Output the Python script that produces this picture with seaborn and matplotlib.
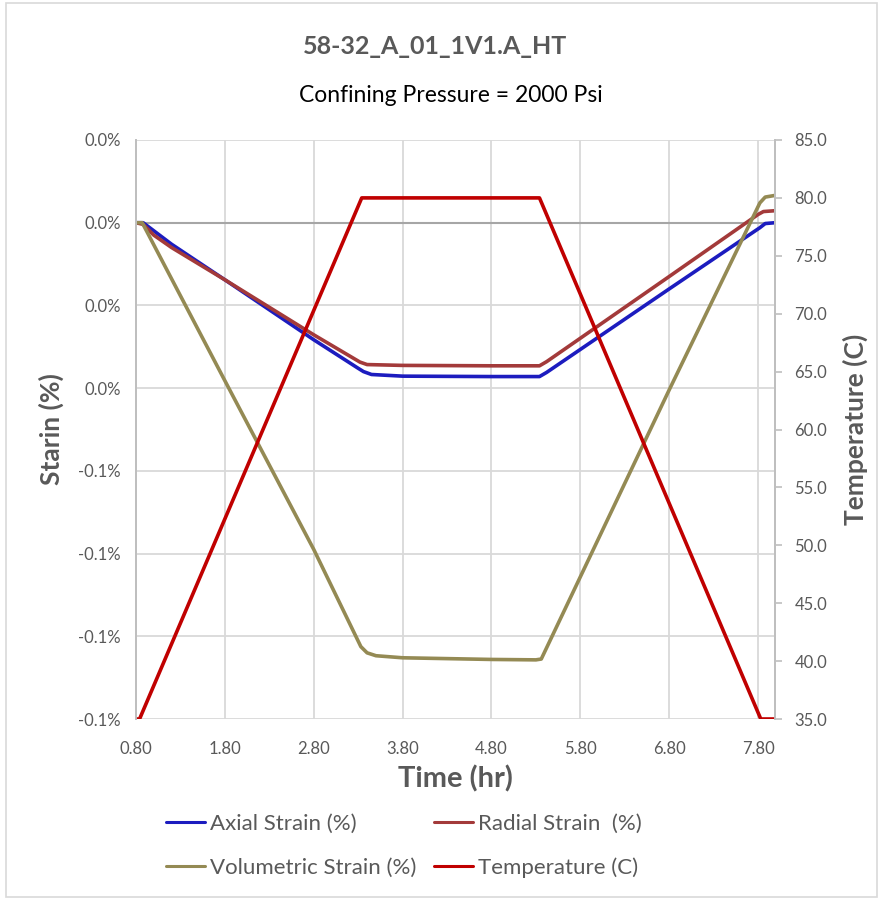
import pandas as pd
import numpy as np
import matplotlib
matplotlib.use("Agg")
import matplotlib.pyplot as plt
import seaborn as sns
from matplotlib.lines import Line2D
from matplotlib.patches import Rectangle

# Dados (tempo em horas, deformação em %)
axial_t = [0.80, 0.88, 1.20, 1.80, 2.80, 3.30, 3.36, 3.45, 3.80, 4.80, 5.34, 5.42, 6.80, 7.82, 7.88, 7.99]
axial_v = [0.0, 0.0, -0.0052, -0.0138, -0.0283, -0.0352, -0.0360, -0.0367, -0.0371, -0.0372, -0.0372, -0.0362, -0.0160, -0.0012, -0.0002, 0.0]

radial_t = [0.80, 0.88, 1.00, 1.20, 1.80, 2.80, 3.32, 3.40, 3.80, 4.80, 5.34, 5.42, 6.80, 7.80, 7.86, 7.99]
radial_v = [0.0, -0.0004, -0.0030, -0.0060, -0.0138, -0.0271, -0.0337, -0.0343, -0.0345, -0.0346, -0.0346, -0.0336, -0.0130, 0.0020, 0.0027, 0.0029]

vol_t = [0.80, 0.87, 1.80, 2.80, 3.33, 3.40, 3.50, 3.80, 4.80, 5.30, 5.36, 6.80, 7.82, 7.88, 7.99]
vol_v = [0.0, 0.0, -0.0382, -0.0790, -0.1025, -0.1040, -0.1047, -0.1052, -0.1056, -0.1057, -0.1055, -0.0404, 0.0048, 0.0062, 0.0066]

temp_t = [0.80, 0.84, 3.34, 5.34, 7.83, 7.99]
temp_v = [35.0, 35.0, 80.0, 80.0, 35.0, 35.0]

strain_ticks = [0.02, 0.0, -0.02, -0.04, -0.06, -0.08, -0.10, -0.12]
strain_tick_labels = ["0.0%", "0.0%", "0.0%", "0.0%", "-0.1%", "-0.1%", "-0.1%", "-0.1%"]
temp_ticks = [35, 40, 45, 50, 55, 60, 65, 70, 75, 80, 85]
time_ticks = [0.8, 1.8, 2.8, 3.8, 4.8, 5.8, 6.8, 7.8]

series_names = ["Axial Strain (%)", "Radial Strain  (%)", "Volumetric Strain (%)"]
temp_name = "Temperature (C)"
cores = {"Axial Strain (%)": "#1c1cbf",
         "Radial Strain  (%)": "#a33a3a",
         "Volumetric Strain (%)": "#948a54"}
cor_temp = "#c00000"
cinza = "#595959"

# Montar DataFrame longo
linhas = []
for nome, tt, vv in zip(series_names, [axial_t, radial_t, vol_t], [axial_v, radial_v, vol_v]):
    for t, v in zip(tt, vv):
        linhas.append({"Tempo": t, "Strain": v, "Serie": nome})
df = pd.DataFrame(linhas)
df_temp = pd.DataFrame({"Tempo": temp_t, "Temp": temp_v})

sns.set_style("white")
plt.rcParams["font.family"] = ["Lato", "DejaVu Sans"]

fig = plt.figure(figsize=(8.79, 9.0), dpi=100)
ax = fig.add_axes([136 / 879, 1 - 719 / 900, (775 - 136) / 879, (719 - 140) / 900])
ax2 = ax.twinx()

# Grade
for x in time_ticks:
    ax.axvline(x, color="#d9d9d9", lw=1.3, zorder=0)
for y in strain_ticks:
    ax.axhline(y, color="#d9d9d9", lw=1.3, zorder=0)
ax.axhline(0.0, color="#a6a6a6", lw=1.5, zorder=1)

sns.lineplot(data=df, x="Tempo", y="Strain", hue="Serie", palette=cores,
             hue_order=series_names, sort=False, estimator=None, lw=2.6,
             ax=ax, legend=False)
sns.lineplot(data=df_temp, x="Tempo", y="Temp", color=cor_temp, lw=2.6,
             sort=False, estimator=None, ax=ax2, legend=False)

ax.set_xlim(0.8, 7.99)
ax.set_ylim(-0.12, 0.02)
ax2.set_ylim(35, 85)

ax.set_xticks(time_ticks)
ax.set_xticklabels([f"{t:.2f}" for t in time_ticks], fontsize=12, color=cinza)
ax.set_yticks(strain_ticks)
ax.set_yticklabels(strain_tick_labels, fontsize=12, color=cinza)
ax2.set_yticks(temp_ticks)
ax2.set_yticklabels([f"{t:.1f}" for t in temp_ticks], fontsize=12, color=cinza)

ax.tick_params(axis="x", length=0, pad=16)
ax.tick_params(axis="y", length=0, pad=11)
ax2.tick_params(axis="y", length=5, color="#bfbfbf", width=1.2, pad=9)

for a in (ax, ax2):
    for s in ["top", "bottom"]:
        a.spines[s].set_visible(False)
    a.spines["left"].set_color("#bfbfbf")
    a.spines["right"].set_color("#bfbfbf")
    a.spines["left"].set_linewidth(1.3)
    a.spines["right"].set_linewidth(1.3)

ax.set_xlabel("Time (hr)", fontsize=21, fontweight="bold", color=cinza, labelpad=6)
ax.set_ylabel("Starin (%)", fontsize=19, fontweight="bold", color=cinza)
ax2.set_ylabel("Temperature (C)", fontsize=19, fontweight="bold", color=cinza)
ax.yaxis.set_label_coords(-72 / 639, 0.5)
ax2.yaxis.set_label_coords(1 + 68 / 639, 0.5)

fig.text(435 / 879, 1 - 47 / 900, "58-32_A_01_1V1.A_HT", ha="center", va="center",
         fontsize=18, fontweight="bold", color=cinza)
fig.text(451 / 879, 1 - 96 / 900, "Confining Pressure = 2000 Psi", ha="center", va="center",
         fontsize=16.5, color="black")

# Legenda em duas colunas
handles = [Line2D([], [], color=cores[series_names[0]], lw=2.2),
           Line2D([], [], color=cores[series_names[2]], lw=2.2),
           Line2D([], [], color=cores[series_names[1]], lw=2.2),
           Line2D([], [], color=cor_temp, lw=2.2)]
labels = [series_names[0], series_names[2], series_names[1], temp_name]
leg = fig.legend(handles, labels, ncol=2, loc="center", bbox_to_anchor=(404 / 879, 1 - 846 / 900),
                 frameon=False, fontsize=16, handlelength=1.76, handletextpad=0.23,
                 columnspacing=0.8, labelspacing=1.05)
for txt in leg.get_texts():
    txt.set_color(cinza)

fig.patches.append(Rectangle((6 / 879, 0.003), 1 - 8 / 879, 0.994, transform=fig.transFigure,
                             fill=False, edgecolor="#d9d9d9", lw=1.2))

plt.savefig("out.png", dpi=100)
plt.close()
